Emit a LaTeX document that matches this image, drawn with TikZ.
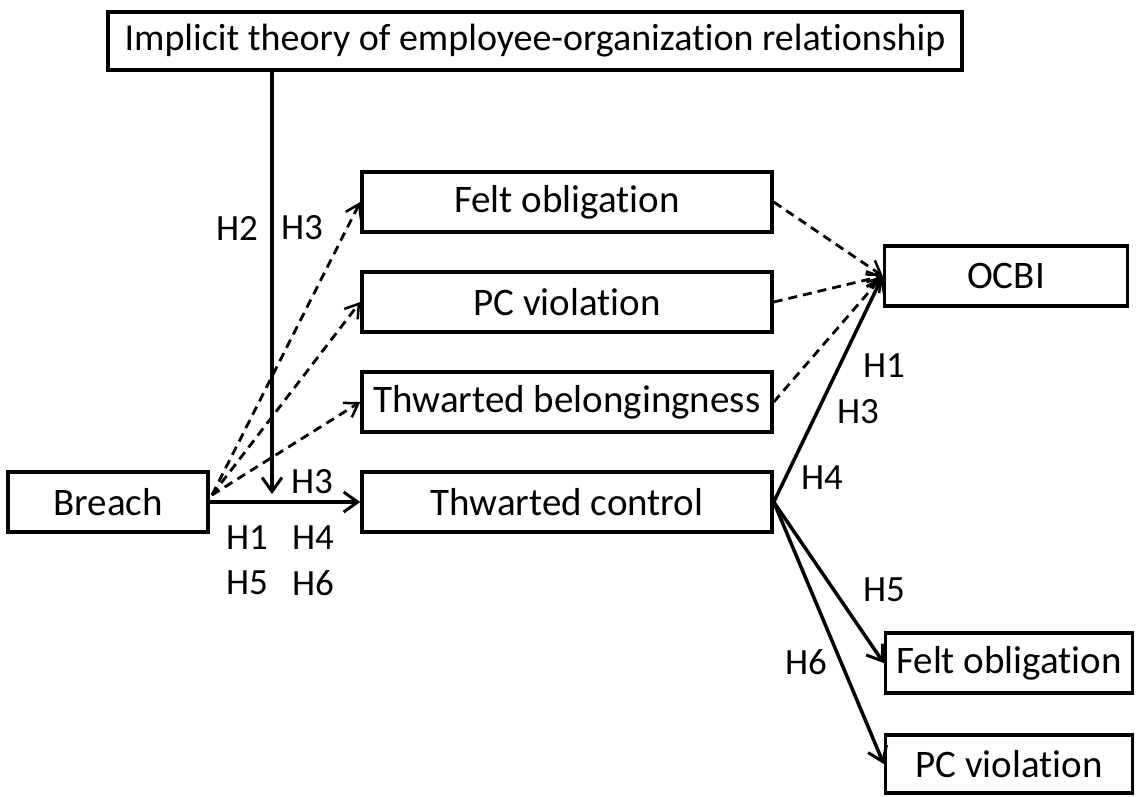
\documentclass[tikz,border=0pt]{standalone}
\usepackage{fontspec}
\setmainfont[Ligatures={NoCommon},RawFeature={-liga;-clig}]{Carlito}
\usetikzlibrary{arrows.meta}
\begin{document}
\begin{tikzpicture}[x=1pt,y=-1pt,
  box/.style={draw,line width=3.5pt,rectangle,inner sep=0pt,font=\fontsize{39}{45}\selectfont},
  lab/.style={inner sep=0pt,font=\fontsize{37}{43}\selectfont},
  arr/.style={line width=3.5pt,-{Straight Barb[length=14pt,width=20pt,line width=3pt]}},
  darr/.style={line width=2.8pt,dash pattern=on 9pt off 6pt,-{Straight Barb[length=13pt,width=17pt,line width=2.5pt]}}]
\useasboundingbox (0,0) rectangle (1136,796);
\node[box,minimum width=854pt,minimum height=58pt,font=\fontsize{38}{44}\selectfont] (top) at (535,41) {Implicit theory of employee-organization relationship};
\node[box,minimum width=410pt,minimum height=60pt] (fo) at (567,202) {Felt obligation};
\node[box,minimum width=410pt,minimum height=60pt] (pc) at (567,302) {PC violation};
\node[box,minimum width=410pt,minimum height=60pt] (tb) at (567,402) {Thwarted belongingness};
\node[box,minimum width=410pt,minimum height=60pt] (tc) at (567,502) {Thwarted control};
\node[box,minimum width=200pt,minimum height=60pt] (br) at (108,502) {Breach};
\node[box,minimum width=243pt,minimum height=60pt] (oc) at (1006,276) {OCBI};
\node[box,minimum width=247pt,minimum height=60pt] (fo2) at (1009,663) {Felt obligation};
\node[box,minimum width=247pt,minimum height=58pt] (pc2) at (1009,764) {PC violation};
\coordinate (mod) at (272,494);
\coordinate (bs) at (212,495);
% moderator arrow
\draw[arr] (top.south -| mod) -- (mod);
% breach to thwarted control
\draw[arr] (br.east) -- (tc.west);
% dashed from breach
\draw[darr] (bs) -- (fo.west);
\draw[darr] (bs) -- (pc.west);
\draw[darr] (bs) -- (tb.west);
% dashed to OCBI
\draw[darr] (fo.east) -- (oc.west);
\draw[darr] (pc.east) -- (oc.west);
\draw[darr] (tb.east) -- (oc.west);
% solid from thwarted control
\draw[arr] (tc.east) -- (oc.west);
\draw[arr] (tc.east) -- (fo2.west);
\draw[arr] (tc.east) -- (pc2.west);
% labels
\node[lab] (l1) at (237,228) {H2};
\node[lab] (l2) at (302,228) {H3};
\node[lab] (l3) at (312,482) {H3};
\node[lab] (l4) at (247,538) {H1};
\node[lab] (l5) at (313,538) {H4};
\node[lab] (l6) at (247,583) {H5};
\node[lab] (l7) at (313,583) {H6};
\node[lab] (l8) at (884,366) {H1};
\node[lab] (l9) at (858,412) {H3};
\node[lab] (l10) at (822,478) {H4};
\node[lab] (l11) at (884,590) {H5};
\node[lab] (l12) at (806,662) {H6};
\end{tikzpicture}
\end{document}
